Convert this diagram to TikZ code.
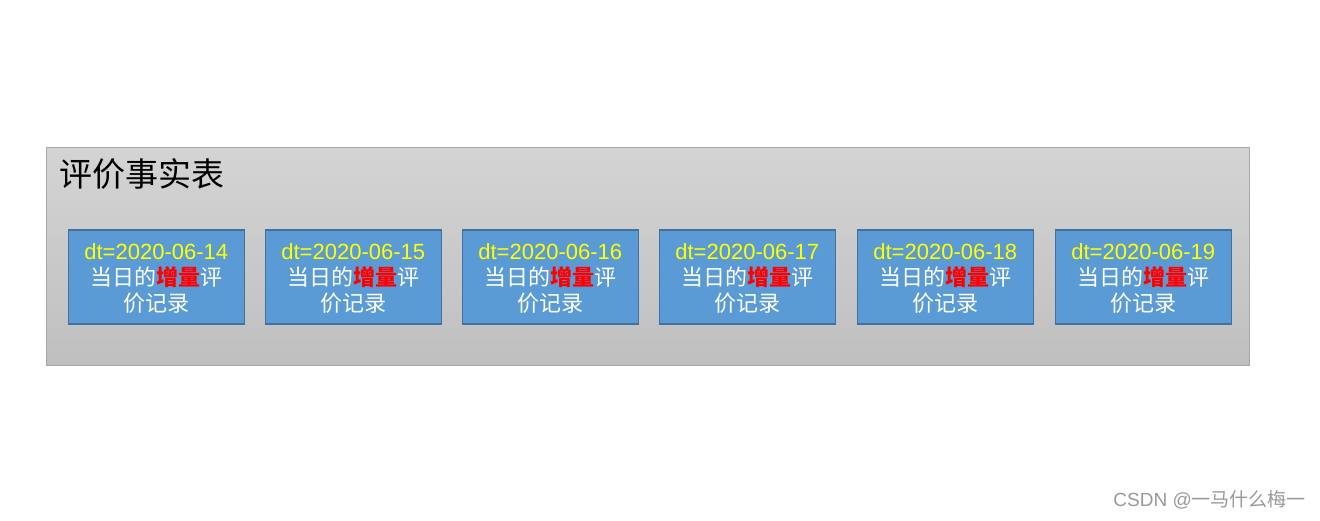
\documentclass[tikz,border=0pt]{standalone}
\usepackage{fontspec}
\setmainfont{Liberation Sans}
\newfontfamily\cjk{Noto Sans CJK SC}
\usetikzlibrary{positioning}
\definecolor{boxfill}{HTML}{5B9BD5}
\definecolor{boxline}{HTML}{41719C}
\definecolor{outtop}{HTML}{D4D4D4}
\definecolor{outbot}{HTML}{BFBFBF}
\definecolor{outline}{HTML}{A8A8A8}
\definecolor{dtyellow}{HTML}{FFFF00}
\definecolor{wmgray}{HTML}{999999}
\tikzset{
  part/.style={draw=boxline, line width=1.5pt, fill=boxfill, minimum width=176pt, minimum height=94pt, anchor=north west, inner sep=0pt},
  ptext/.style={align=center, text=white, font=\fontsize{22}{26}\selectfont},
}
\newcommand{\parttext}[1]{{\fontsize{22}{26}\selectfont\color{dtyellow}dt=2020-06-#1}\\{\cjk 当日的{\color{red}\bfseries 增量}评}\\{\cjk 价记录}}
\begin{document}
\begin{tikzpicture}[x=1pt,y=-1pt]
\useasboundingbox (0,0) rectangle (1320,521);
\node[draw=outline, line width=0.8pt, top color=outtop, bottom color=outbot, minimum width=1203pt, minimum height=218pt, anchor=north west, inner sep=0pt] (table) at (46,147) {};
\node[anchor=west, inner sep=0pt, font=\fontsize{33}{36}\selectfont\cjk] (title) at (59,174) {评价事实表};
\foreach \i/\x/\d in {1/67.5/14,2/264.5/15,3/461.5/16,4/658.5/17,5/856.5/18,6/1054.5/19}{
  \node[part] (p\i) at (\x,229.5) {};
  \node[ptext] (t\i) at ([yshift=-1pt]p\i.center) {\parttext{\d}};
}
\node[anchor=east, inner sep=0pt, text=wmgray, font=\fontsize{19}{21}\selectfont] (wm) at (1306,500) {CSDN @{\cjk 一马什么梅一}};
\end{tikzpicture}
\end{document}
